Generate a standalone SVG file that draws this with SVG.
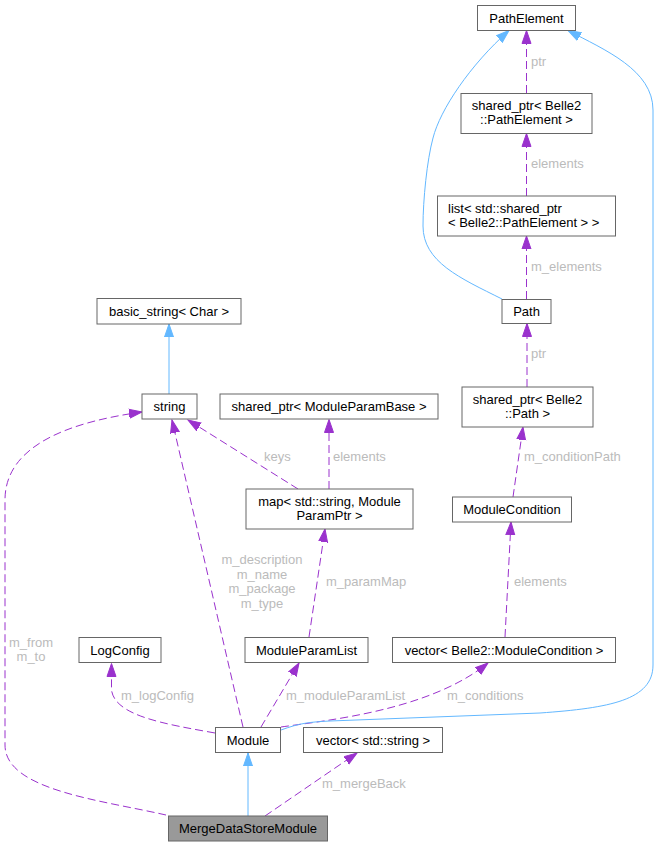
<svg xmlns="http://www.w3.org/2000/svg" width="659" height="847" viewBox="0 0 659 847">
<style>
.n rect{fill:#ffffff;stroke:#666666;stroke-width:1}
.n.g rect{fill:#999999}
.n text{font-family:"Liberation Sans",Arial,sans-serif;font-size:13px;fill:#000000;text-anchor:middle}
.n text.l{text-anchor:start}
.e path{fill:none;stroke-width:1}
.d{stroke:#9a32cd;stroke-dasharray:8,4;marker-end:url(#ap)}
.b{stroke:#63b8ff;marker-end:url(#ab)}
.lb{font-family:"Liberation Sans",Arial,sans-serif;font-size:13px;fill:#bbbbbb}
.lb.m{text-anchor:middle}
</style>
<defs>
<marker id="ap" markerUnits="userSpaceOnUse" markerWidth="15" markerHeight="12" refX="13" refY="5" orient="auto" viewBox="0 0 15 10">
<path d="M0,0.5 L13,5 L0,9.5 z" fill="#9a32cd" stroke="#9a32cd"/>
</marker>
<marker id="ab" markerUnits="userSpaceOnUse" markerWidth="15" markerHeight="12" refX="13" refY="5" orient="auto" viewBox="0 0 15 10">
<path d="M0,0.5 L13,5 L0,9.5 z" fill="#63b8ff" stroke="#63b8ff"/>
</marker>
</defs>
<rect width="659" height="847" fill="#ffffff"/>
<g id="edges" class="e">
<path class="b" d="M248,816 L248,753"/>
<path class="d" d="M265,816 L357,753"/>
<path class="d" d="M166,815 C100,800 5,790 5,745 L5,500 C5,445 70,422 142,412"/>
<path class="d" d="M243,727 L172,420"/>
<path class="d" d="M215,733 C165,724 115,716 111.5,690 L111.5,663.5"/>
<path class="d" d="M261,727 L299,663"/>
<path class="d" d="M281,727 C330,720 430,710 488,663"/>
<path class="b" d="M281,730 C300,723 310,722 330,721 L540,713 C610,708 653,700 653,665 L653,110 C653,70 605,50 568,30.5"/>
<path class="b" d="M502,299 C460,278 423,262 423,226 C423,200 427,160 433,138 C440,110 470,65 509,30.5"/>
<path class="d" d="M526.5,93 L526.5,30.5"/>
<path class="d" d="M526.5,196 L526.5,133.5"/>
<path class="d" d="M526.5,299 L526.5,236"/>
<path class="d" d="M527,387 L527,323.5"/>
<path class="d" d="M513,497 L523,427"/>
<path class="d" d="M505,637 L511,522"/>
<path class="d" d="M298,489 L188,420"/>
<path class="d" d="M329,489 L329,419.5"/>
<path class="d" d="M309,637 L325,529"/>
<path class="b" d="M169,394 L169,324"/>
<text class="lb" x="322" y="788">m_mergeBack</text>
<text class="lb m" x="31" y="647">m_from</text>
<text class="lb m" x="31" y="661">m_to</text>
<text class="lb m" x="262" y="564">m_description</text>
<text class="lb m" x="262" y="578.5">m_name</text>
<text class="lb m" x="262" y="593">m_package</text>
<text class="lb m" x="262" y="607.5">m_type</text>
<text class="lb" x="121" y="700">m_logConfig</text>
<text class="lb" x="286" y="700">m_moduleParamList</text>
<text class="lb" x="447" y="700">m_conditions</text>
<text class="lb" x="531" y="66">ptr</text>
<text class="lb" x="531" y="168">elements</text>
<text class="lb" x="531" y="271">m_elements</text>
<text class="lb" x="531" y="358">ptr</text>
<text class="lb" x="524" y="461">m_conditionPath</text>
<text class="lb" x="514" y="586">elements</text>
<text class="lb" x="264" y="461">keys</text>
<text class="lb" x="333" y="461">elements</text>
<text class="lb" x="326" y="586">m_paramMap</text>
</g>
<g id="PathElement" class="n"><rect x="477.5" y="5.5" width="98" height="25"/><text x="526.5" y="22.5">PathElement</text></g>
<g id="shared_ptr_PathElement" class="n"><rect x="461" y="93.5" width="131" height="40"/><text x="526.5" y="110">shared_ptr&lt; Belle2</text><text x="526.5" y="124">::PathElement &gt;</text></g>
<g id="list_shared_ptr" class="n"><rect x="437.5" y="196" width="178" height="40"/><text class="l" x="448" y="212.5">list&lt; std::shared_ptr</text><text class="l" x="448" y="226.5">&lt; Belle2::PathElement &gt; &gt;</text></g>
<g id="Path" class="n"><rect x="502" y="299.5" width="49" height="24"/><text x="526.5" y="316">Path</text></g>
<g id="shared_ptr_Path" class="n"><rect x="462" y="387" width="131" height="40"/><text x="527.5" y="403.5">shared_ptr&lt; Belle2</text><text x="527.5" y="417.5">::Path &gt;</text></g>
<g id="ModuleCondition" class="n"><rect x="452.5" y="497" width="119" height="25"/><text x="512" y="514">ModuleCondition</text></g>
<g id="basic_string" class="n"><rect x="97" y="298.5" width="144" height="25.5"/><text x="169" y="315.5">basic_string&lt; Char &gt;</text></g>
<g id="string" class="n"><rect x="142" y="394" width="55" height="25"/><text x="169.5" y="411">string</text></g>
<g id="shared_ptr_ModuleParamBase" class="n"><rect x="220" y="394" width="218" height="25"/><text x="329" y="411">shared_ptr&lt; ModuleParamBase &gt;</text></g>
<g id="map" class="n"><rect x="246" y="489" width="167" height="40"/><text x="329.5" y="505.5">map&lt; std::string, Module</text><text x="329.5" y="519.5">ParamPtr &gt;</text></g>
<g id="LogConfig" class="n"><rect x="79" y="637.5" width="82" height="25"/><text x="120" y="654.5">LogConfig</text></g>
<g id="ModuleParamList" class="n"><rect x="245" y="637.5" width="123" height="25"/><text x="306.5" y="654.5">ModuleParamList</text></g>
<g id="vector_ModuleCondition" class="n"><rect x="392.5" y="637.5" width="223" height="25"/><text x="504" y="654.5">vector&lt; Belle2::ModuleCondition &gt;</text></g>
<g id="Module" class="n"><rect x="215.5" y="727.5" width="65" height="25"/><text x="248" y="744.5">Module</text></g>
<g id="vector_string" class="n"><rect x="303.5" y="727.5" width="139" height="25"/><text x="373" y="744.5">vector&lt; std::string &gt;</text></g>
<g id="MergeDataStoreModule" class="n g"><rect x="168.5" y="816" width="159" height="25"/><text x="248" y="833">MergeDataStoreModule</text></g>
</svg>
